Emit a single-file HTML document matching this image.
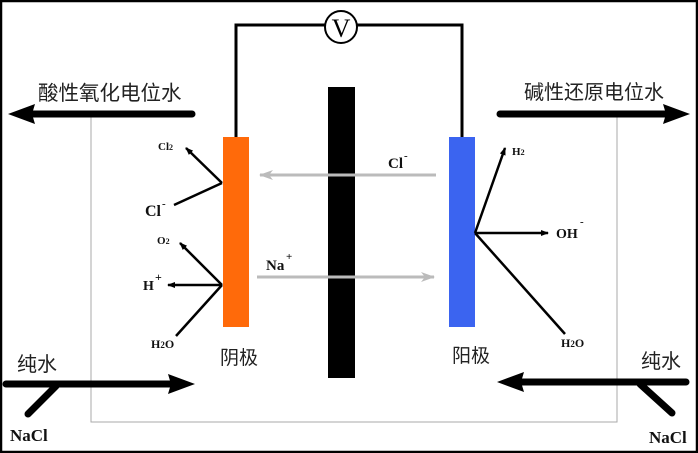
<!DOCTYPE html>
<html><head><meta charset="utf-8"><style>
html,body{margin:0;padding:0;background:#fff;}
svg{display:block;}
.cn{font-family:"Liberation Sans","Noto Sans CJK SC",sans-serif;fill:#222;}
.ch{font-family:"Liberation Serif",serif;font-weight:bold;fill:#111;}
</style></head><body>
<svg width="698" height="453" viewBox="0 0 698 453" xmlns="http://www.w3.org/2000/svg">
<defs>
<marker id="ah" markerWidth="8" markerHeight="6" refX="7" refY="3" orient="auto" markerUnits="userSpaceOnUse"><path d="M0,0 L8,3 L0,6 Z" fill="#000"/></marker>
<marker id="ag" markerWidth="14" markerHeight="10" refX="13" refY="5" orient="auto" markerUnits="userSpaceOnUse"><path d="M0,0 L14,5 L0,10 L4,5 Z" fill="#bbb"/></marker>
</defs>
<rect x="1" y="1" width="696" height="451" fill="none" stroke="#000" stroke-width="2.5"/>
<polyline points="91,114 91,422 617,422 617,114" fill="none" stroke="#aaa" stroke-width="1"/>
<polyline points="236,137 236,25 462,25 462,137" fill="none" stroke="#000" stroke-width="3"/>
<circle cx="341" cy="27" r="16" fill="#fff" stroke="#000" stroke-width="2"/>
<text x="341" y="37" text-anchor="middle" font-family="Liberation Serif,serif" font-size="26" fill="#000">V</text>
<rect x="223" y="137" width="26" height="190" fill="#ff6a0a"/>
<rect x="449" y="137" width="26" height="190" fill="#3b64f0"/>
<rect x="328" y="87" width="27" height="291" fill="#000"/>
<line x1="436" y1="175" x2="260" y2="175" stroke="#bbb" stroke-width="3" marker-end="url(#ag)"/>
<line x1="257" y1="277" x2="434" y2="277" stroke="#bbb" stroke-width="3" marker-end="url(#ag)"/>
<text x="388" y="168" class="ch" font-size="15">Cl</text><text x="404" y="159" class="ch" font-size="11">-</text>
<text x="266" y="270" class="ch" font-size="15">Na</text><text x="286" y="260" class="ch" font-size="11">+</text>
<line x1="222" y1="183" x2="186" y2="148" stroke="#000" stroke-width="2.5" marker-end="url(#ah)"/>
<line x1="222" y1="183" x2="174" y2="205" stroke="#000" stroke-width="2.5"/>
<line x1="222" y1="285" x2="180" y2="243" stroke="#000" stroke-width="2.5" marker-end="url(#ah)"/>
<line x1="222" y1="285" x2="168" y2="285" stroke="#000" stroke-width="2.5" marker-end="url(#ah)"/>
<line x1="222" y1="285" x2="176" y2="336" stroke="#000" stroke-width="2.5"/>
<text x="158" y="150" class="ch" font-size="11">Cl<tspan font-size="8">2</tspan></text>
<text x="145" y="216" class="ch" font-size="16">Cl</text><text x="162" y="207" class="ch" font-size="11">-</text>
<text x="157" y="244" class="ch" font-size="11">O<tspan font-size="8">2</tspan></text>
<text x="143" y="290" class="ch" font-size="14">H</text><text x="155" y="281" class="ch" font-size="12">+</text>
<text x="151" y="348" class="ch" font-size="12">H<tspan font-size="9">2</tspan>O</text>
<line x1="475" y1="233" x2="505" y2="148" stroke="#000" stroke-width="2.5" marker-end="url(#ah)"/>
<line x1="475" y1="233" x2="548" y2="233" stroke="#000" stroke-width="2.5" marker-end="url(#ah)"/>
<line x1="475" y1="233" x2="565" y2="334" stroke="#000" stroke-width="2.5"/>
<text x="512" y="155" class="ch" font-size="11">H<tspan font-size="8">2</tspan></text>
<text x="556" y="238" class="ch" font-size="14">OH</text><text x="580" y="225" class="ch" font-size="11">-</text>
<text x="561" y="347" class="ch" font-size="12">H<tspan font-size="9">2</tspan>O</text>
<text x="220" y="364" class="cn" font-size="19">阴极</text>
<text x="452" y="362" class="cn" font-size="19">阳极</text>
<line x1="192" y1="114" x2="30" y2="114" stroke="#000" stroke-width="7" stroke-linecap="round"/>
<path d="M8,114 L35,104 L32,114 L35,124 Z" fill="#000"/>
<text x="38" y="100" class="cn" font-size="20.5">酸性氧化电位水</text>
<line x1="500" y1="114" x2="668" y2="114" stroke="#000" stroke-width="7" stroke-linecap="round"/>
<path d="M690,114 L663,104 L666,114 L663,124 Z" fill="#000"/>
<text x="524" y="99" class="cn" font-size="20">碱性还原电位水</text>
<line x1="6" y1="384" x2="172" y2="384" stroke="#000" stroke-width="7" stroke-linecap="round"/>
<path d="M195,384 L168,374 L171,384 L168,394 Z" fill="#000"/>
<line x1="56" y1="386" x2="28" y2="414" stroke="#000" stroke-width="7" stroke-linecap="round"/>
<text x="17" y="371" class="cn" font-size="20">纯水</text>
<text x="10" y="441" class="ch" font-size="17">NaCl</text>
<line x1="686" y1="382" x2="520" y2="382" stroke="#000" stroke-width="7" stroke-linecap="round"/>
<path d="M497,382 L524,372 L521,382 L524,392 Z" fill="#000"/>
<line x1="640" y1="384" x2="672" y2="413" stroke="#000" stroke-width="7" stroke-linecap="round"/>
<text x="641" y="368" class="cn" font-size="20">纯水</text>
<text x="649" y="443" class="ch" font-size="17">NaCl</text>
</svg>
</body></html>
